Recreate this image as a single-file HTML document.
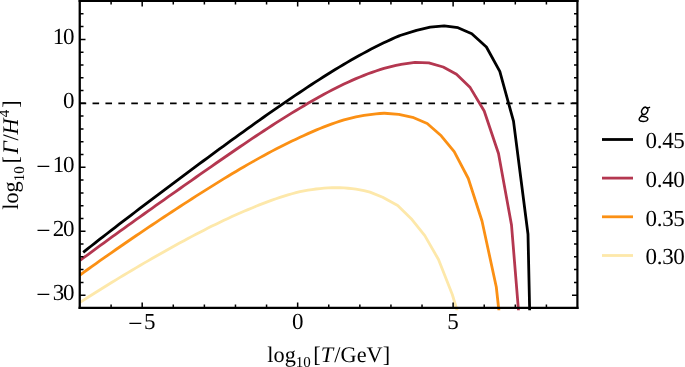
<!DOCTYPE html>
<html><head><meta charset="utf-8"><style>
html,body{margin:0;padding:0;background:#fff;}
text{text-rendering:geometricPrecision;}
svg{display:block;will-change:transform;}
</style></head><body>
<svg width="685" height="367" viewBox="0 0 685 367">
<rect width="685" height="367" fill="#fff"/>
<defs><clipPath id="c"><rect x="80.0" y="1.0" width="497.5" height="309.2"/></clipPath></defs>
<line x1="79.6" y1="103.33" x2="577.5" y2="103.33" stroke="#000" stroke-width="1.8" stroke-dasharray="6.6 6.32"/>
<g clip-path="url(#c)" fill="none" stroke-width="2.8" stroke-linejoin="round">
<path d="M80.00,302.43 L84.00,299.85 L88.00,297.29 L92.00,294.74 L96.00,292.22 L100.00,289.71 L104.00,287.22 L108.00,284.75 L112.00,282.29 L116.00,279.84 L120.00,277.42 L124.00,275.00 L128.00,272.61 L132.00,270.22 L136.00,267.85 L140.00,265.50 L144.00,263.16 L148.00,260.84 L152.00,258.53 L156.00,256.23 L160.00,253.96 L164.00,251.69 L168.00,249.45 L172.00,247.22 L176.00,245.01 L180.00,242.82 L184.00,240.66 L188.00,238.51 L192.00,236.38 L196.00,234.28 L200.00,232.20 L204.00,230.14 L208.00,228.11 L212.00,226.11 L216.00,224.14 L220.00,222.20 L224.00,220.30 L228.00,218.42 L232.00,216.59 L236.00,214.79 L240.00,213.03 L244.00,211.31 L248.00,209.64 L252.00,207.96 L256.00,206.28 L260.00,204.66 L264.00,203.09 L268.00,201.57 L272.00,200.11 L276.00,198.70 L280.00,197.37 L284.00,196.09 L288.00,194.89 L292.00,193.75 L296.00,192.69 L300.00,191.71 L304.00,190.90 L308.00,190.18 L312.00,189.54 L316.00,188.99 L320.00,188.53 L324.00,188.18 L328.00,187.92 L332.00,187.76 L336.00,187.71 L340.00,187.77 L344.00,187.95 L348.00,188.25 L352.00,188.66 L356.00,189.21 L360.00,189.88 L364.00,190.69 L368.00,191.64 L370.00,192.17 L382.70,197.30 L397.70,205.50 L411.20,218.70 L424.80,235.60 L438.50,259.50 L452.30,294.50 L456.80,309.50 L457.20,311.00" stroke="#FDE8AA"/>
<path d="M80.00,275.04 L84.00,272.13 L88.00,269.25 L92.00,266.38 L96.00,263.53 L100.00,260.70 L104.00,257.88 L108.00,255.07 L112.00,252.28 L116.00,249.50 L120.00,246.74 L124.00,243.98 L128.00,241.24 L132.00,238.50 L136.00,235.78 L140.00,233.07 L144.00,230.37 L148.00,227.67 L152.00,224.99 L156.00,222.32 L160.00,219.66 L164.00,217.00 L168.00,214.36 L172.00,211.73 L176.00,209.11 L180.00,206.50 L184.00,203.90 L188.00,201.31 L192.00,198.74 L196.00,196.17 L200.00,193.63 L204.00,191.09 L208.00,188.57 L212.00,186.07 L216.00,183.58 L220.00,181.11 L224.00,178.66 L228.00,176.23 L232.00,173.82 L236.00,171.43 L240.00,169.06 L244.00,166.72 L248.00,164.41 L252.00,162.12 L256.00,159.86 L260.00,157.63 L264.00,155.43 L268.00,153.26 L272.00,151.13 L276.00,149.04 L280.00,146.98 L284.00,144.97 L288.00,142.99 L292.00,141.07 L296.00,139.18 L300.00,137.35 L304.00,135.47 L308.00,133.64 L312.00,131.87 L316.00,130.15 L320.00,128.50 L324.00,126.90 L328.00,125.37 L332.00,123.91 L336.00,122.52 L340.00,121.20 L344.00,119.96 L348.00,118.86 L352.00,117.88 L356.00,116.98 L360.00,116.16 L364.00,115.44 L368.00,114.80 L372.00,114.27 L376.00,113.83 L380.00,113.50 L384.00,113.27 L384.50,113.25 L398.80,114.40 L412.60,117.30 L427.20,123.50 L441.20,135.80 L454.20,151.70 L468.30,178.50 L482.00,221.00 L496.30,287.00 L498.60,308.00 L500.00,320.00" stroke="#FB9014"/>
<path d="M80.00,260.47 L84.00,257.48 L88.00,254.51 L92.00,251.55 L96.00,248.61 L100.00,245.68 L104.00,242.76 L108.00,239.85 L112.00,236.95 L116.00,234.06 L120.00,231.17 L124.00,228.29 L128.00,225.42 L132.00,222.56 L136.00,219.70 L140.00,216.85 L144.00,214.00 L148.00,211.15 L152.00,208.31 L156.00,205.47 L160.00,202.63 L164.00,199.80 L168.00,196.97 L172.00,194.14 L176.00,191.31 L180.00,188.49 L184.00,185.67 L188.00,182.86 L192.00,180.05 L196.00,177.24 L200.00,174.44 L204.00,171.64 L208.00,168.84 L212.00,166.06 L216.00,163.27 L220.00,160.50 L224.00,157.74 L228.00,154.98 L232.00,152.23 L236.00,149.49 L240.00,146.77 L244.00,144.05 L248.00,141.35 L252.00,138.67 L256.00,136.00 L260.00,133.35 L264.00,130.71 L268.00,128.10 L272.00,125.51 L276.00,122.94 L280.00,120.39 L284.00,117.87 L288.00,115.38 L292.00,112.92 L296.00,110.49 L300.00,108.09 L304.00,105.69 L308.00,103.32 L312.00,101.00 L316.00,98.71 L320.00,96.47 L324.00,94.27 L328.00,92.12 L332.00,90.03 L336.00,87.98 L340.00,85.99 L344.00,84.05 L348.00,82.18 L352.00,80.37 L356.00,78.62 L360.00,76.94 L364.00,75.33 L368.00,73.80 L372.00,72.34 L376.00,70.96 L380.00,69.67 L384.00,68.46 L388.00,67.34 L392.00,66.31 L396.00,65.38 L400.00,64.54 L401.00,64.36 L415.00,62.30 L428.80,62.80 L443.20,67.00 L456.50,74.30 L470.20,87.60 L484.20,111.00 L498.50,153.50 L511.50,225.00 L518.30,308.00 L519.20,320.00" stroke="#B43750"/>
<path d="M83.20,252.30 L87.20,249.13 L91.20,245.98 L95.20,242.84 L99.20,239.71 L103.20,236.60 L107.20,233.49 L111.20,230.40 L115.20,227.31 L119.20,224.23 L123.20,221.16 L127.20,218.10 L131.20,215.04 L135.20,212.00 L139.20,208.95 L143.20,205.92 L147.20,202.89 L151.20,199.86 L155.20,196.84 L159.20,193.83 L163.20,190.82 L167.20,187.82 L171.20,184.82 L175.20,181.82 L179.20,178.83 L183.20,175.85 L187.20,172.87 L191.20,169.89 L195.20,166.92 L199.20,163.96 L203.20,161.00 L207.20,158.04 L211.20,155.10 L215.20,152.15 L219.20,149.22 L223.20,146.29 L227.20,143.37 L231.20,140.45 L235.20,137.55 L239.20,134.65 L243.20,131.77 L247.20,128.89 L251.20,126.02 L255.20,123.17 L259.20,120.33 L263.20,117.50 L267.20,114.68 L271.20,111.88 L275.20,109.09 L279.20,106.32 L283.20,103.56 L287.20,100.83 L291.20,98.11 L295.20,95.41 L299.20,92.74 L303.20,90.06 L307.20,87.40 L311.20,84.77 L315.20,82.16 L319.20,79.58 L323.20,77.03 L327.20,74.50 L331.20,72.01 L335.20,69.55 L339.20,67.12 L343.20,64.73 L347.20,62.38 L351.20,60.06 L355.20,57.79 L359.20,55.55 L363.20,53.36 L367.20,51.21 L371.20,49.11 L375.20,47.06 L379.20,45.05 L383.20,43.10 L387.20,41.21 L391.20,39.37 L395.20,37.58 L399.20,35.86 L400.00,35.52 L416.50,30.30 L430.20,27.20 L444.20,25.90 L458.00,27.70 L471.80,33.70 L486.40,47.00 L499.80,71.40 L513.50,121.10 L528.00,234.20 L529.60,308.00 L529.90,320.00" stroke="#000000"/>
</g>
<path d="M80.0,295.21h5.5 M577.5,295.21h-5.5 M80.0,282.42h3.5 M577.5,282.42h-3.5 M80.0,269.62h3.5 M577.5,269.62h-3.5 M80.0,256.83h3.5 M577.5,256.83h-3.5 M80.0,244.04h3.5 M577.5,244.04h-3.5 M80.0,231.25h5.5 M577.5,231.25h-5.5 M80.0,218.46h3.5 M577.5,218.46h-3.5 M80.0,205.67h3.5 M577.5,205.67h-3.5 M80.0,192.88h3.5 M577.5,192.88h-3.5 M80.0,180.08h3.5 M577.5,180.08h-3.5 M80.0,167.29h5.5 M577.5,167.29h-5.5 M80.0,154.50h3.5 M577.5,154.50h-3.5 M80.0,141.71h3.5 M577.5,141.71h-3.5 M80.0,128.92h3.5 M577.5,128.92h-3.5 M80.0,116.12h3.5 M577.5,116.12h-3.5 M80.0,103.33h5.5 M577.5,103.33h-5.5 M80.0,90.54h3.5 M577.5,90.54h-3.5 M80.0,77.75h3.5 M577.5,77.75h-3.5 M80.0,64.96h3.5 M577.5,64.96h-3.5 M80.0,52.17h3.5 M577.5,52.17h-3.5 M80.0,39.38h5.5 M577.5,39.38h-5.5 M80.0,26.58h3.5 M577.5,26.58h-3.5 M80.0,13.79h3.5 M577.5,13.79h-3.5 M111.09,308.0v-3.5 M111.09,1.0v3.5 M142.19,308.0v-5.5 M142.19,1.0v5.5 M173.28,308.0v-3.5 M173.28,1.0v3.5 M204.38,308.0v-3.5 M204.38,1.0v3.5 M235.47,308.0v-3.5 M235.47,1.0v3.5 M266.56,308.0v-3.5 M266.56,1.0v3.5 M297.66,308.0v-5.5 M297.66,1.0v5.5 M328.75,308.0v-3.5 M328.75,1.0v3.5 M359.84,308.0v-3.5 M359.84,1.0v3.5 M390.94,308.0v-3.5 M390.94,1.0v3.5 M422.03,308.0v-3.5 M422.03,1.0v3.5 M453.12,308.0v-5.5 M453.12,1.0v5.5 M484.22,308.0v-3.5 M484.22,1.0v3.5 M515.31,308.0v-3.5 M515.31,1.0v3.5 M546.41,308.0v-3.5 M546.41,1.0v3.5" stroke="#000" stroke-width="1.5" fill="none"/>
<path d="M79.75,-1V309.1" stroke="#000" stroke-width="2.3" fill="none"/>
<path d="M577.4,-1V309.1" stroke="#000" stroke-width="2.2" fill="none"/>
<path d="M78.6,1.0H578.5" stroke="#000" stroke-width="2.1" fill="none"/>
<path d="M78.6,307.9H578.5" stroke="#000" stroke-width="2.2" fill="none"/>
<path d="M37.5,166.39H49.3 M37.5,230.35H49.3 M37.5,294.31H49.3 M129.4,323.3H141.3" stroke="#000" stroke-width="1.25" fill="none"/>
<g font-family="Liberation Serif" font-size="23" fill="#000"><text x="73.2" y="44.17" text-anchor="end" letter-spacing="-1.3">10</text><text x="74.5" y="108.13" text-anchor="end">0</text><text x="73.2" y="172.09" text-anchor="end" letter-spacing="-1.3">10</text><text x="73.2" y="236.05" text-anchor="end" letter-spacing="-1.3">20</text><text x="73.2" y="300.01" text-anchor="end" letter-spacing="-1.3">30</text><text x="143.9" y="328.8">5</text><text x="297.66" y="328.8" text-anchor="middle">0</text><text x="453.12" y="328.8" text-anchor="middle">5</text></g>
<text x="267.3" y="361.6" font-family="Liberation Serif" font-size="22.3">log<tspan font-size="15" dy="5.1">10</tspan><tspan dy="-5.1" dx="2.5">[</tspan><tspan font-style="italic">T</tspan><tspan dx="1.2">/</tspan>GeV]</text>
<text transform="translate(18.4,209.8) rotate(-90)" font-family="Liberation Serif" font-size="22.3">log<tspan font-size="15" dy="5.1">10</tspan><tspan dy="-5.1" dx="2.8">[</tspan><tspan font-style="italic" dx="2">Γ</tspan><tspan dx="0.8">/</tspan><tspan font-style="italic">H</tspan><tspan font-size="15" dy="-9" dx="1">4</tspan><tspan dy="9" dx="2">]</tspan></text>
<g fill="none" stroke="#000" stroke-linecap="round"><ellipse cx="644.7" cy="110.8" rx="2.8" ry="3.75" transform="rotate(30 644.7 110.8)" stroke-width="1.45"/><path d="M646.6,108.0 Q648.2,107.9 649.6,107.3" stroke-width="1.4"/><path d="M642.3,114.5 Q640.6,115.5 641.9,116.0 Q645.5,116.6 647.0,117.5 Q649.0,119.2 646.5,120.8 Q643.5,122.0 640.3,121.0 Q638.3,119.8 639.7,117.8 Q640.6,116.7 641.8,116.1" stroke-width="1.45"/></g>
<line x1="602" y1="139.5" x2="633" y2="139.5" stroke="#000000" stroke-width="2.8"/>
<text x="645.6" y="148.2" font-family="Liberation Serif" font-size="23" letter-spacing="-0.35">0.45</text>
<line x1="602" y1="178.1" x2="633" y2="178.1" stroke="#B43750" stroke-width="2.8"/>
<text x="645.6" y="186.8" font-family="Liberation Serif" font-size="23" letter-spacing="-0.35">0.40</text>
<line x1="602" y1="216.8" x2="633" y2="216.8" stroke="#FB9014" stroke-width="2.8"/>
<text x="645.6" y="225.5" font-family="Liberation Serif" font-size="23" letter-spacing="-0.35">0.35</text>
<line x1="602" y1="255.5" x2="633" y2="255.5" stroke="#FDE8AA" stroke-width="2.8"/>
<text x="645.6" y="264.2" font-family="Liberation Serif" font-size="23" letter-spacing="-0.35">0.30</text>
</svg>
</body></html>
